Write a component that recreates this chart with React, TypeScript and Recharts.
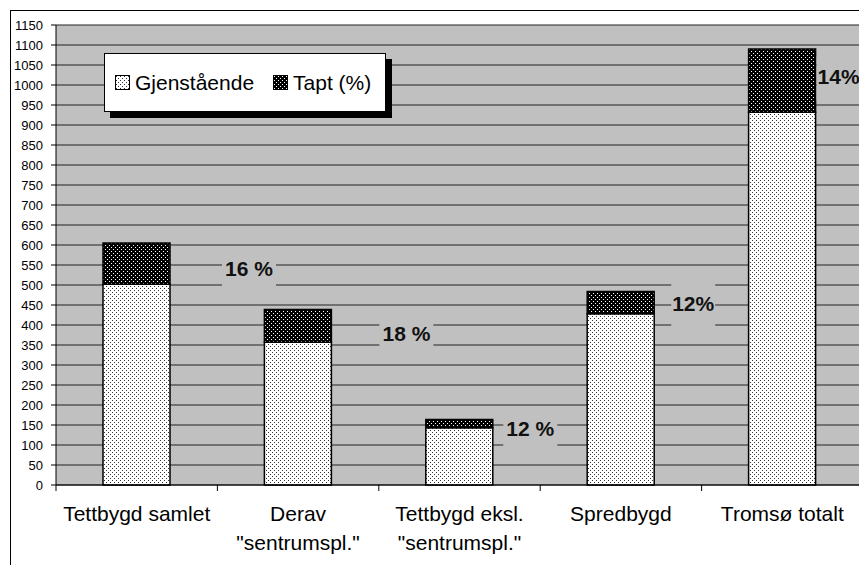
import { BarChart, Bar, XAxis, YAxis, CartesianGrid, Legend, LabelList } from 'recharts'

const categories = [
  'Tettbygd samlet',
  'Derav\n"sentrumspl."',
  'Tettbygd eksl.\n"sentrumspl."',
  'Spredbygd',
  'Tromsø totalt',
]
const remaining = [502, 357, 143, 428, 932]
const lost = [103, 82, 21, 56, 158]
const lossLabels = ['16 %', '18 %', '12 %', '12%', '14%']
const yTicks = [
  0, 50, 100, 150, 200, 250, 300, 350, 400, 450, 500, 550,
  600, 650, 700, 750, 800, 850, 900, 950, 1000, 1050, 1100, 1150,
]
const seriesNames = ['Gjenstående', 'Tapt (%)']

const data = categories.map((name, i) => ({
  name,
  remaining: remaining[i],
  lost: lost[i],
  pct: lossLabels[i],
}))

const W = 859
const H = 557
const margin = { top: 17, right: 4, bottom: 0, left: 0 }
const Y_AXIS_W = 48
const STEP = (W - margin.left - margin.right - Y_AXIS_W) / categories.length
const FONT = '"Liberation Sans", Arial, sans-serif'
const PLOT_BG = '#c0c0c0'

// the percent labels were placed by hand in the original, offsets from the
// right edge / middle of the "Tapt" segment
const labelNudge = [[79, 4.5], [75, 7.7], [37.5, 5], [39, 0.7], [23, -4]]

function CategoryTick({ x, y, payload, index }: any) {
  const lines = String(payload.value).split('\n')
  const top = y - 6
  return (
    <g>
      <line x1={x - STEP / 2} x2={x - STEP / 2} y1={top} y2={top + 6} stroke="#000" />
      {index === categories.length - 1 && (
        <line x1={x + STEP / 2} x2={x + STEP / 2} y1={top} y2={top + 6} stroke="#000" />
      )}
      <text x={x} y={y + 30} textAnchor="middle" fontSize={21} fontFamily={FONT} fill="#000">
        {lines.map((l, i) => (
          <tspan key={i} x={x} dy={i === 0 ? 0 : 29}>{l}</tspan>
        ))}
      </text>
    </g>
  )
}

function LossLabel(props: any) {
  const { x, y, width, height, value } = props
  const idx = props.index ?? lossLabels.indexOf(String(value))
  const [dx, dy] = labelNudge[idx] || [20, 0]
  const cx = Number(x) + Number(width) + dx
  const cy = Number(y) + Number(height) / 2 + dy
  const half = String(value).length * 5 + 7
  return (
    <g>
      <rect x={cx - half} y={cy - 20} width={half * 2} height={44} fill={PLOT_BG} />
      <text x={cx} y={cy + 7.5} textAnchor="middle" fontSize={21} fontWeight="bold" fontFamily={FONT} fill="#111">
        {value}
      </text>
    </g>
  )
}

function Swatch({ dark }: { dark: boolean }) {
  const id = dark ? 'lgDark' : 'lgLight'
  return (
    <svg width={15} height={15} style={{ marginRight: 5, display: 'block', flex: 'none' }}>
      <defs>
        <pattern id={id} width={4} height={4} patternUnits="userSpaceOnUse">
          <rect width={4} height={4} fill={dark ? '#000' : '#fff'} />
          <rect x={1} y={1} width={1} height={1} fill={dark ? '#fff' : '#333'} />
          <rect x={3} y={3} width={1} height={1} fill={dark ? '#fff' : '#333'} />
        </pattern>
      </defs>
      <rect x={0.5} y={0.5} width={14} height={14} fill={`url(#${id})`} stroke="#000" />
    </svg>
  )
}

function LegendBox() {
  return (
    <div
      style={{
        boxSizing: 'border-box',
        width: 282,
        height: 59,
        background: '#fff',
        border: '1px solid #000',
        boxShadow: '6px 6px 0 #000',
        display: 'flex',
        alignItems: 'center',
        paddingLeft: 10,
        fontFamily: FONT,
        fontSize: 21,
        color: '#000',
        whiteSpace: 'nowrap',
      }}
    >
      {seriesNames.map((n, i) => (
        <span key={n} style={{ display: 'inline-flex', alignItems: 'center', marginRight: 19, flex: 'none' }}>
          <Swatch dark={i === 1} />
          {n}
        </span>
      ))}
    </div>
  )
}

export default function App() {
  return (
    <div style={{ position: 'relative', width: W, height: H, overflow: 'hidden', background: '#fff' }}>
      <div
        style={{
          position: 'absolute',
          left: 2,
          top: 2,
          width: 900,
          height: 600,
          borderTop: '1px solid #000',
          borderLeft: '1px solid #000',
        }}
      />
      <BarChart width={W} height={H} data={data} margin={margin} barSize={67}>
        <defs>
          <pattern id="dotsLight" width={4} height={4} patternUnits="userSpaceOnUse">
            <rect width={4} height={4} fill="#fff" />
            <rect x={0} y={0} width={1} height={1} fill="#333" />
            <rect x={2} y={2} width={1} height={1} fill="#333" />
          </pattern>
          <pattern id="dotsDark" width={4} height={4} patternUnits="userSpaceOnUse">
            <rect width={4} height={4} fill="#000" />
            <rect x={1} y={1} width={1} height={1} fill="#fff" />
            <rect x={3} y={3} width={1} height={1} fill="#fff" />
          </pattern>
        </defs>
        <CartesianGrid vertical={false} stroke="#222" fill={PLOT_BG} fillOpacity={1} />
        <XAxis
          dataKey="name"
          height={80}
          interval={0}
          tickLine={false}
          tickSize={6}
          tickMargin={0}
          axisLine={{ stroke: '#000' }}
          tick={(p: any) => <CategoryTick {...p} />}
        />
        <YAxis
          domain={[0, 1150]}
          ticks={yTicks}
          interval={0}
          width={Y_AXIS_W}
          tickSize={5}
          tickMargin={8}
          axisLine={{ stroke: '#000' }}
          tickLine={{ stroke: '#000' }}
          tick={{ fontSize: 13, fill: '#000', fontFamily: FONT }}
        />
        <YAxis
          yAxisId="r"
          orientation="right"
          domain={[0, 1150]}
          width={0}
          tick={false}
          tickLine={false}
          axisLine={{ stroke: '#000' }}
        />
        <Legend
          layout="horizontal"
          verticalAlign="middle"
          align="center"
          content={() => <LegendBox />}
          wrapperStyle={{ left: 96, top: 45, width: 282, height: 59 }}
        />
        <Bar
          dataKey="remaining"
          name={seriesNames[0]}
          stackId="a"
          fill="url(#dotsLight)"
          stroke="#000"
          strokeWidth={1.5}
          isAnimationActive={false}
        />
        <Bar
          dataKey="lost"
          name={seriesNames[1]}
          stackId="a"
          fill="url(#dotsDark)"
          stroke="#000"
          strokeWidth={1.5}
          isAnimationActive={false}
        >
          <LabelList dataKey="pct" content={(p: any) => <LossLabel {...p} />} />
        </Bar>
      </BarChart>
    </div>
  )
}
